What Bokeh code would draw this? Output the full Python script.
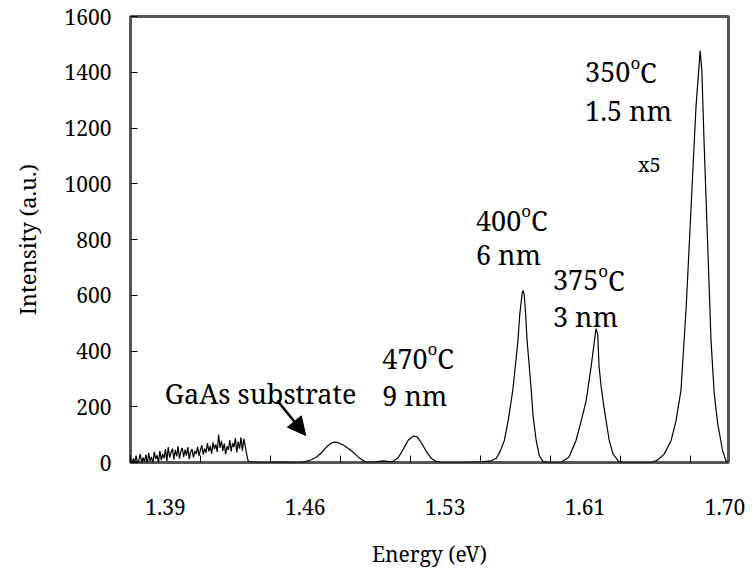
from bokeh.plotting import figure
from bokeh.models import Range1d, FixedTicker, Label, Arrow, NormalHead, ColumnDataSource
from bokeh.embed import file_html
from bokeh.resources import INLINE

# ---------------- data ----------------
# spectrum sampled on the spectrometer's wavelength axis (nm); x axis is labelled in energy (eV)
noise_nm = [900.0, 899.6, 899.2, 898.8, 898.4, 898.0, 897.6, 897.2, 896.8, 896.4,
            896.0, 895.6, 895.2, 894.8, 894.4, 894.0, 893.6, 893.2, 892.8, 892.4,
            892.0, 891.6, 891.2, 890.8, 890.4, 890.0, 889.6, 889.2, 888.8, 888.4,
            888.0, 887.6, 887.2, 886.8, 886.4, 886.0, 885.6, 885.2, 884.8, 884.4,
            884.0, 883.6, 883.2, 882.8, 882.4, 882.0, 881.6, 881.2, 880.8, 880.4,
            880.0, 879.6, 879.2, 878.8, 878.4, 878.0, 877.6, 877.2, 876.8, 876.4,
            876.0, 875.6, 875.2, 874.8, 874.4, 874.0, 873.6, 873.2, 872.8, 872.4,
            872.0, 871.6, 871.2, 870.8, 870.4, 870.0, 869.6, 869.2, 868.8, 868.4,
            868.0, 867.6, 867.2, 866.8, 866.4]
noise_int = [8, -8, 15, 0, 25, -5, 10, 30, -3, 18,
             2, 28, -6, 35, 5, 20, -4, 38, 12, 26,
             0, 42, 8, 30, 15, 48, 5, 55, 18, 36,
             50, 10, 45, 22, 58, 14, 40, 52, 20, 46,
             25, 55, 12, 38, 48, 18, 42, 30, 56, 24,
             45, 62, 28, 50, 35, 70, 40, 60, 32, 72,
             48, 65, 38, 100, 52, 78, 42, 68, 30, 58,
             45, 80, 40, 70, 55, 88, 36, 75, 50, 90,
             42, 85, 60, 30, 8]

peaks_nm = [866.0, 862.0, 857.0, 852.0,
            851.7, 849.7, 848.3, 846.9, 845.4, 844.0, 842.6, 841.7, 840.6, 839.1,
            837.7, 836.3, 834.9, 833.4, 832.3,
            829.7, 827.7, 826.0,
            824.9, 823.4, 822.0, 820.6, 819.1, 818.0, 816.9, 815.4, 814.0, 812.6, 811.1,
            805.0, 799.7, 796.9, 795.4, 794.3, 793.1, 792.0, 790.7, 790.0, 789.2, 788.7,
            788.0, 787.7, 787.4, 787.0, 786.6, 786.0, 785.4, 784.9, 784.0, 783.1, 782.0, 780.3,
            776.9, 774.6, 772.6, 771.1, 769.7, 768.3, 767.4, 766.9, 766.4, 766.0, 765.4,
            764.6, 763.1, 762.0, 760.3, 758.3,
            751.1, 749.4, 747.4, 745.4, 744.0, 742.6, 741.1, 739.7, 738.3, 737.1, 736.6,
            736.0, 735.0, 734.0, 733.1, 732.1, 730.7, 729.7, 729.1]
peaks_int = [2, 0, 1, 0,
             0, 4, 10, 19, 35, 55, 70, 73, 71, 62,
             50, 37, 20, 6, 1,
             2, 6, 3,
             4, 18, 48, 80, 95, 92, 72, 40, 15, 4, 0,
             0, 2, 6, 15, 40, 79, 150, 258, 340, 438, 530,
             607, 617, 600, 530, 438, 350, 258, 170, 79, 25, 3, 0,
             0, 20, 79, 150, 222, 342, 430, 480, 460, 342, 270,
             197, 79, 30, 2, 0,
             0, 8, 30, 79, 150, 258, 557, 916, 1275, 1478, 1400,
             1155, 797, 438, 250, 140, 43, 5, 0]

energy_tick_nm = [890, 850, 810, 770, 730]
energy_tick_labels = ["1.39", "1.46", "1.53", "1.61", "1.70"]
minor_tick_nm = [900, 880, 860, 840, 820, 800, 780, 760, 740]
y_ticks = [0, 200, 400, 600, 800, 1000, 1200, 1400, 1600]

temp_labels = ["350", "400", "375", "470"]
size_labels = ["1.5 nm", "6 nm", "3 nm", "9 nm"]
label_nm = [770.0, 801.2, 779.2, 828.0]
temp_y = [1400, 868, 653, 373]
size_y = [1263, 746, 524, 240]

# ---------------- figure ----------------
FONT = "Noto Serif"
p = figure(width=755, height=573, output_backend="svg", toolbar_location=None,
           x_range=Range1d(900, 729), y_range=Range1d(0, 1600),
           min_border_left=130, min_border_right=27, min_border_top=16, min_border_bottom=111)
p.background_fill_color = "white"
p.border_fill_color = "white"
p.grid.visible = False
p.outline_line_color = "#555555"
p.outline_line_width = 3

src = ColumnDataSource(dict(x=noise_nm + peaks_nm, y=noise_int + peaks_int))
p.line("x", "y", source=src, line_color="black", line_width=1.2)

xa = p.xaxis[0]
xa.ticker = FixedTicker(ticks=energy_tick_nm, minor_ticks=minor_tick_nm)
xa.major_label_overrides = {t: l for t, l in zip(energy_tick_nm, energy_tick_labels)}
xa.major_tick_in = 0
xa.major_tick_out = 0
xa.minor_tick_in = 7
xa.minor_tick_out = 0
xa.minor_tick_line_color = "black"
xa.axis_line_color = None
xa.major_label_standoff = 36
xa.major_label_text_font = FONT
xa.major_label_text_font_size = "21px"
xa.major_label_text_color = "black"
xa.axis_label = "Energy (eV)"
xa.axis_label_text_font = FONT
xa.axis_label_text_font_size = "21px"
xa.axis_label_text_font_style = "normal"
xa.axis_label_text_color = "black"
xa.axis_label_standoff = 22

ya = p.yaxis[0]
ya.ticker = FixedTicker(ticks=y_ticks, minor_ticks=[])
ya.major_tick_in = 7
ya.major_tick_out = 0
ya.major_tick_line_color = "black"
ya.axis_line_color = None
ya.major_label_standoff = 19
ya.major_label_text_font = FONT
ya.major_label_text_font_size = "21px"
ya.major_label_text_color = "black"
ya.axis_label = "Intensity (a.u.)"
ya.axis_label_text_font = FONT
ya.axis_label_text_font_size = "22px"
ya.axis_label_text_font_style = "normal"
ya.axis_label_text_color = "black"
ya.axis_label_standoff = 20

FS = 27
SUP = 17
DIGIT_W = 0.559
O_W = 0.57
raise_units = 36
for t, s, lx, ty, sy in zip(temp_labels, size_labels, label_nm, temp_y, size_y):
    p.add_layout(Label(x=lx, y=ty, text=t, text_font=FONT, text_font_size=f"{FS}px",
                       text_color="black", text_baseline="alphabetic", text_align="left"))
    p.add_layout(Label(x=lx, y=ty + raise_units, text="o", x_offset=3 * DIGIT_W * FS,
                       text_font=FONT, text_font_size=f"{SUP}px", text_color="black",
                       text_baseline="alphabetic", text_align="left"))
    p.add_layout(Label(x=lx, y=ty, text="C", x_offset=3 * DIGIT_W * FS + O_W * SUP,
                       text_font=FONT, text_font_size=f"{FS}px", text_color="black",
                       text_baseline="alphabetic", text_align="left"))
    p.add_layout(Label(x=lx, y=sy, text=s, text_font=FONT, text_font_size=f"{FS}px",
                       text_color="black", text_baseline="alphabetic", text_align="left"))

p.add_layout(Label(x=754.9, y=1069, text="x5", text_font=FONT, text_font_size="20px",
                   text_color="black", text_baseline="alphabetic", text_align="left"))
p.add_layout(Label(x=835.4, y=248, text="GaAs substrate", text_font=FONT,
                   text_font_size=f"{FS}px", text_color="black",
                   text_baseline="alphabetic", text_align="right"))
p.add_layout(Arrow(end=NormalHead(size=18, fill_color="black", line_color="black"),
                   x_start=858.0, y_start=222, x_end=849.9, y_end=97,
                   line_width=2.5, line_color="black"))

open("out.html", "w").write(file_html(p, INLINE))
